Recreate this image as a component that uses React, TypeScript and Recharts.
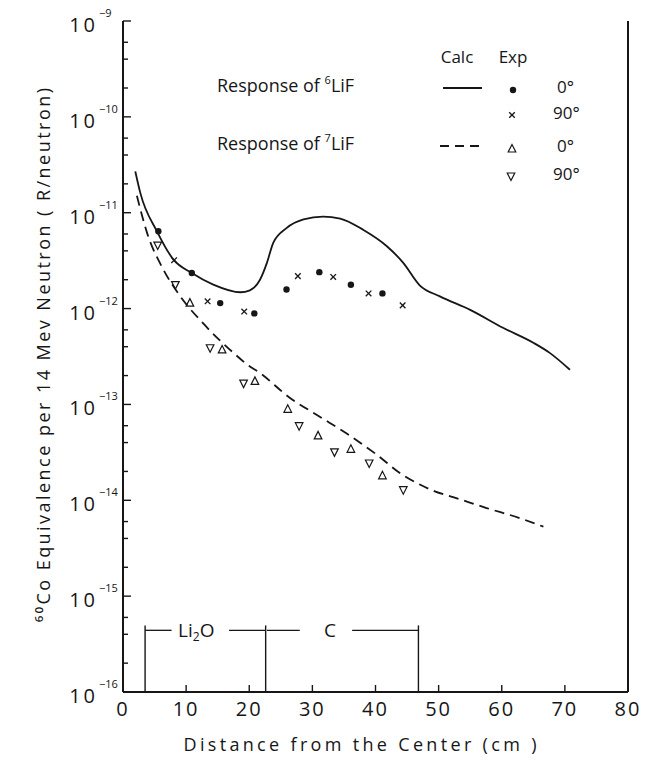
import React from 'react';
import { ComposedChart, Line, Scatter, XAxis, YAxis, ReferenceLine } from 'recharts';

// ---------- data ----------
const xTicks = [0, 10, 20, 30, 40, 50, 60, 70, 80];
const yTicks = [
  1e-16, 2e-16, 4e-16, 6e-16,
  1e-15, 2e-15, 4e-15, 6e-15,
  1e-14, 2e-14, 4e-14, 6e-14,
  1e-13, 2e-13, 4e-13, 6e-13,
  1e-12, 2e-12, 4e-12, 6e-12,
  1e-11, 2e-11, 4e-11, 6e-11,
  1e-10, 2e-10, 4e-10, 6e-10,
  1e-9,
];

// Calculated response of 6LiF (solid)
const calc6LiF = [
  { x: 1.95, y: 2.7e-11 }, { x: 2.74, y: 1.61e-11 }, { x: 5.38, y: 6.4e-12 },
  { x: 8.0, y: 3.24e-12 }, { x: 10.9, y: 2.35e-12 }, { x: 14.3, y: 1.78e-12 },
  { x: 18.6, y: 1.48e-12 }, { x: 20.1, y: 1.55e-12 }, { x: 21.7, y: 2.0e-12 },
  { x: 22.8, y: 3.0e-12 }, { x: 23.8, y: 4.84e-12 }, { x: 25.9, y: 6.9e-12 },
  { x: 28.6, y: 8.5e-12 }, { x: 31.7, y: 9.1e-12 }, { x: 34.4, y: 8.7e-12 },
  { x: 38.1, y: 6.6e-12 }, { x: 41.8, y: 4.47e-12 }, { x: 44.4, y: 3.0e-12 },
  { x: 47.0, y: 1.75e-12 }, { x: 50.2, y: 1.34e-12 }, { x: 55.0, y: 9.7e-13 },
  { x: 60.2, y: 6.3e-13 }, { x: 65.0, y: 4.4e-13 }, { x: 67.6, y: 3.45e-13 },
  { x: 70.8, y: 2.3e-13 },
];

// Calculated response of 7LiF (dashed)
const calc7LiF = [
  { x: 2.2, y: 1.5e-11 }, { x: 3.8, y: 6.2e-12 }, { x: 6.4, y: 2.55e-12 },
  { x: 8.8, y: 1.42e-12 }, { x: 12.75, y: 6.95e-13 }, { x: 17.5, y: 3.45e-13 },
  { x: 19.7, y: 2.6e-13 }, { x: 21.7, y: 2.13e-13 }, { x: 26.3, y: 1.19e-13 },
  { x: 31.1, y: 7.5e-14 }, { x: 35.5, y: 4.94e-14 }, { x: 40.0, y: 3.06e-14 },
  { x: 44.4, y: 1.82e-14 }, { x: 47.1, y: 1.45e-14 }, { x: 49.4, y: 1.24e-14 },
  { x: 52.3, y: 1.08e-14 }, { x: 57.6, y: 8.3e-15 }, { x: 62.9, y: 6.5e-15 },
  { x: 66.6, y: 5.3e-15 },
];

// Experimental points
const exp6LiF0 = [
  { x: 5.6, y: 6.4e-12 }, { x: 10.9, y: 2.35e-12 }, { x: 15.4, y: 1.14e-12 },
  { x: 20.8, y: 8.9e-13 }, { x: 25.9, y: 1.58e-12 }, { x: 31.1, y: 2.4e-12 },
  { x: 36.1, y: 1.77e-12 }, { x: 41.1, y: 1.44e-12 },
];
const exp6LiF90 = [
  { x: 8.1, y: 3.2e-12 }, { x: 13.4, y: 1.19e-12 }, { x: 19.2, y: 9.3e-13 },
  { x: 27.7, y: 2.18e-12 }, { x: 33.3, y: 2.14e-12 }, { x: 38.9, y: 1.44e-12 },
  { x: 44.3, y: 1.08e-12 },
];
const exp7LiF0 = [
  { x: 10.6, y: 1.14e-12 }, { x: 15.7, y: 3.7e-13 }, { x: 20.9, y: 1.74e-13 },
  { x: 26.1, y: 8.9e-14 }, { x: 30.9, y: 4.7e-14 }, { x: 36.1, y: 3.4e-14 },
  { x: 41.1, y: 1.8e-14 },
];
const exp7LiF90 = [
  { x: 5.5, y: 4.6e-12 }, { x: 8.3, y: 1.78e-12 }, { x: 13.8, y: 3.9e-13 },
  { x: 19.1, y: 1.67e-13 }, { x: 27.9, y: 6.0e-14 }, { x: 33.5, y: 3.2e-14 },
  { x: 39.0, y: 2.45e-14 }, { x: 44.4, y: 1.29e-14 },
];

// Material regions (cm)
const regionBounds = [3.5, 22.6, 46.8];
const regionBarPieces = [[3.5, 7.7], [16.8, 22.6], [22.8, 28.0], [36.3, 46.8]];
const regionLabels = [
  { x: 11.6, y: 4.4e-16, name: 'Li2O' },
  { x: 32.8, y: 4.4e-16, name: 'C' },
];
const regionBarY = 4.4e-16;
const regionTopY = 4.95e-16;

// ---------- layout ----------
const W = 645;
const H = 767;
const MARGIN = { top: 21, right: 17, bottom: 15, left: 23 };
const Y_AXIS_W = 100;
const X_AXIS_H = 60;
const PLOT_LEFT = MARGIN.left + Y_AXIS_W;
const PLOT_BOTTOM = H - MARGIN.bottom - X_AXIS_H;
const FONT = "'Open Sans', 'DejaVu Sans', sans-serif";
const INK = '#161616';

const YTick = (props: any) => {
  const { y, payload } = props;
  const v = payload.value as number;
  const lg = Math.log10(v);
  const isMajor = Math.abs(lg - Math.round(lg)) < 1e-6;
  return (
    <g>
      <line x1={PLOT_LEFT} x2={PLOT_LEFT + (isMajor ? 8 : 5)} y1={y} y2={y} stroke={INK} strokeWidth={1.4} />
      {isMajor && (
        <text x={PLOT_LEFT - 25} y={y + 11} textAnchor="end" fontSize={20} fontFamily={FONT} fill={INK} letterSpacing={3}>
          10
        </text>
      )}
      {isMajor && (
        <text x={PLOT_LEFT - 24} y={y - 4} textAnchor="start" fontSize={11} fontFamily={FONT} fill={INK}>
          {'\u2212' + String(-Math.round(lg))}
        </text>
      )}
    </g>
  );
};

const XTick = (props: any) => {
  const { x, payload } = props;
  const v = payload.value as number;
  return (
    <g>
      {v > 0 && v < 80 && (
        <line x1={x} x2={x} y1={PLOT_BOTTOM} y2={PLOT_BOTTOM - 7} stroke={INK} strokeWidth={1.4} />
      )}
      <text x={x} y={PLOT_BOTTOM + 24} textAnchor="middle" fontSize={20} fontFamily={FONT} fill={INK} letterSpacing={2}>
        {v}
      </text>
    </g>
  );
};

const DotShape = (p: any) => <circle cx={p.cx} cy={p.cy} r={3.2} fill={INK} />;
const CrossShape = (p: any) => (
  <g stroke={INK} strokeWidth={1.3}>
    <line x1={p.cx - 2.8} y1={p.cy - 2.8} x2={p.cx + 2.8} y2={p.cy + 2.8} />
    <line x1={p.cx - 2.8} y1={p.cy + 2.8} x2={p.cx + 2.8} y2={p.cy - 2.8} />
  </g>
);
const TriUpShape = (p: any) => (
  <polygon
    points={`${p.cx},${p.cy - 4.5} ${p.cx - 3.8},${p.cy + 3} ${p.cx + 3.8},${p.cy + 3}`}
    fill="none" stroke={INK} strokeWidth={1.2}
  />
);
const TriDownShape = (p: any) => (
  <polygon
    points={`${p.cx - 3.8},${p.cy - 3} ${p.cx + 3.8},${p.cy - 3} ${p.cx},${p.cy + 4.5}`}
    fill="none" stroke={INK} strokeWidth={1.2}
  />
);
const RegionLabelShape = (p: any) => {
  const name = p.payload?.name;
  if (name === 'Li2O') {
    return (
      <text x={p.cx} y={p.cy + 7} textAnchor="middle" fontSize={19} fontFamily={FONT} fill={INK}>
        Li<tspan fontSize={12} dy={4}>2</tspan><tspan dy={-4}>O</tspan>
      </text>
    );
  }
  return (
    <text x={p.cx} y={p.cy + 7} textAnchor="middle" fontSize={19} fontFamily={FONT} fill={INK}>
      {name}
    </text>
  );
};

const Legend = () => (
  <g fontFamily={FONT} fill={INK}>
    <text x={457} y={63} textAnchor="middle" fontSize={17}>Calc</text>
    <text x={513} y={63} textAnchor="middle" fontSize={17}>Exp</text>

    <text x={217} y={92} fontSize={18}>
      Response of <tspan fontSize={11} dy={-8}>6</tspan><tspan dy={8}>LiF</tspan>
    </text>
    <line x1={443} x2={482} y1={88} y2={88} stroke={INK} strokeWidth={1.8} />
    <DotShape cx={513} cy={90} />
    <text x={557} y={93} fontSize={17}>0°</text>

    <CrossShape cx={512} cy={115} />
    <text x={553} y={119} fontSize={17}>90°</text>

    <text x={217} y={150} fontSize={18}>
      Response of <tspan fontSize={11} dy={-8}>7</tspan><tspan dy={8}>LiF</tspan>
    </text>
    <line x1={440} x2={482} y1={146} y2={146} stroke={INK} strokeWidth={1.8} strokeDasharray="9 6" />
    <TriUpShape cx={512} cy={149} />
    <text x={557} y={152} fontSize={17}>0°</text>

    <TriDownShape cx={511} cy={176} />
    <text x={553} y={180} fontSize={17}>90°</text>
  </g>
);

export default function App() {
  return (
    <div style={{ position: 'absolute', left: 0, top: 0, width: W, height: H, background: '#fff' }}>
      <ComposedChart width={W} height={H} margin={MARGIN}>
        <XAxis
          type="number"
          dataKey="x"
          domain={[0, 80]}
          ticks={xTicks}
          interval={0}
          height={X_AXIS_H}
          tickLine={false}
          axisLine={{ stroke: INK, strokeWidth: 2 }}
          tick={<XTick />}
          allowDataOverflow
        />
        <YAxis
          type="number"
          dataKey="y"
          scale="log"
          domain={[1e-16, 1e-9]}
          ticks={yTicks}
          interval={0}
          width={Y_AXIS_W}
          tickLine={false}
          axisLine={{ stroke: INK, strokeWidth: 2 }}
          tick={<YTick />}
          allowDataOverflow
        />
        <ReferenceLine x={80} stroke={INK} strokeWidth={2} />
        {regionBounds.map((b) => (
          <ReferenceLine
            key={'rb' + b}
            segment={[{ x: b, y: 1e-16 }, { x: b, y: regionTopY }]}
            stroke={INK}
            strokeWidth={1.4}
          />
        ))}
        {regionBarPieces.map((p, i) => (
          <ReferenceLine
            key={'rp' + i}
            segment={[{ x: p[0], y: regionBarY }, { x: p[1], y: regionBarY }]}
            stroke={INK}
            strokeWidth={1.3}
          />
        ))}
        <Line
          data={calc6LiF}
          dataKey="y"
          type="monotone"
          stroke={INK}
          strokeWidth={1.8}
          dot={false}
          activeDot={false}
          isAnimationActive={false}
        />
        <Line
          data={calc7LiF}
          dataKey="y"
          type="monotone"
          stroke={INK}
          strokeWidth={1.8}
          strokeDasharray="10 6"
          dot={false}
          activeDot={false}
          isAnimationActive={false}
        />
        <Scatter data={exp6LiF0} dataKey="y" shape={<DotShape />} isAnimationActive={false} />
        <Scatter data={exp6LiF90} dataKey="y" shape={<CrossShape />} isAnimationActive={false} />
        <Scatter data={exp7LiF0} dataKey="y" shape={<TriUpShape />} isAnimationActive={false} />
        <Scatter data={exp7LiF90} dataKey="y" shape={<TriDownShape />} isAnimationActive={false} />
        <Scatter data={regionLabels} dataKey="y" shape={<RegionLabelShape />} isAnimationActive={false} />
      </ComposedChart>
      <svg
        width={W}
        height={H}
        style={{ position: 'absolute', left: 0, top: 0, pointerEvents: 'none' }}
      >
        <Legend />
        <text
          transform="translate(50, 355) rotate(-90)"
          textAnchor="middle"
          fontSize={18}
          fontFamily={FONT}
          fill={INK}
          textLength={534}
          lengthAdjust="spacing"
        >
          ⁶⁰Co Equivalence per 14 Mev Neutron ( R/neutron)
        </text>
        <text
          x={360}
          y={751}
          textAnchor="middle"
          fontSize={18}
          fontFamily={FONT}
          fill={INK}
          textLength={353}
          lengthAdjust="spacing"
        >
          Distance from the Center  (cm )
        </text>
      </svg>
    </div>
  );
}
